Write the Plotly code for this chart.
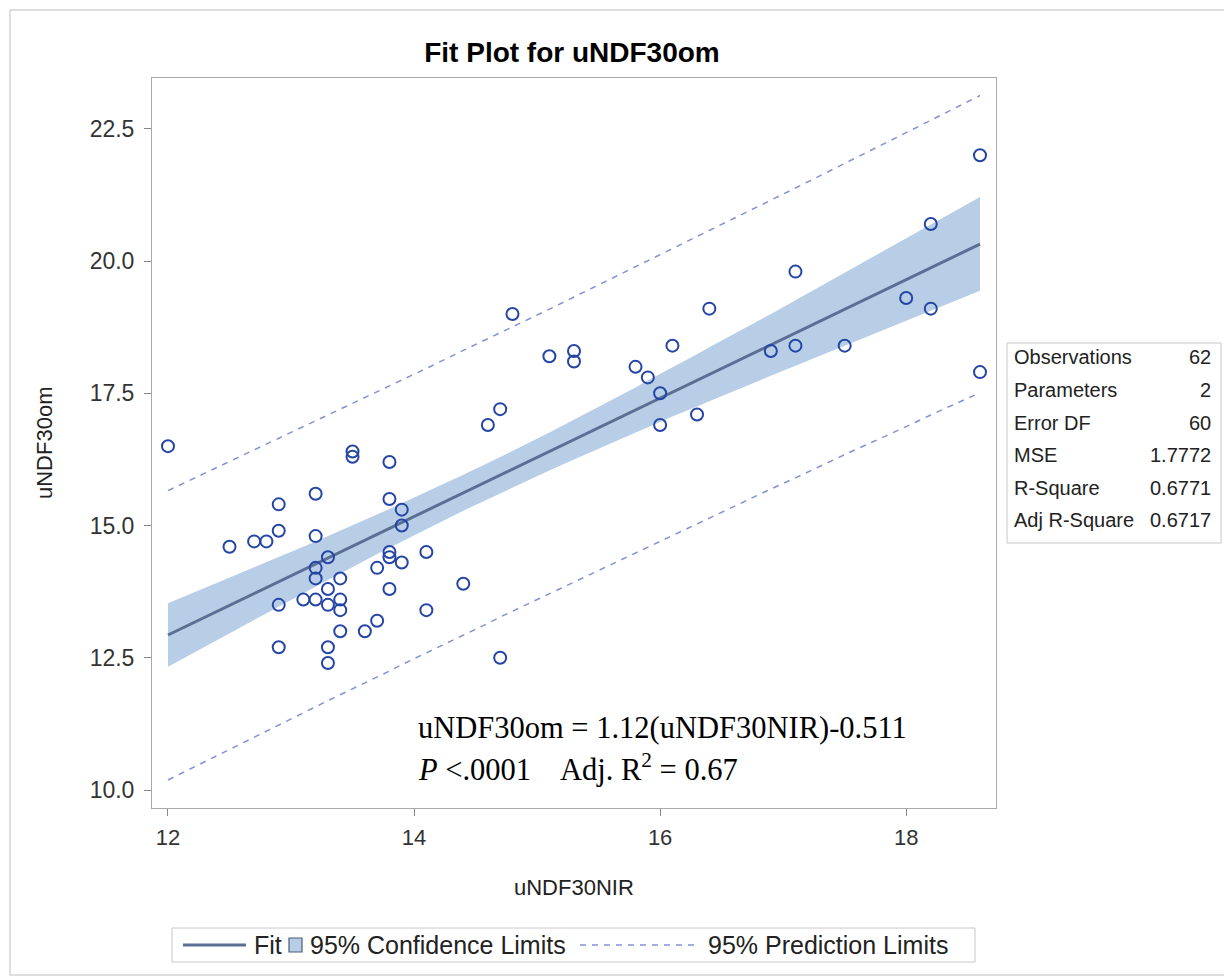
import plotly.graph_objects as go

x_obs = [12.0, 12.5, 12.7, 12.8, 12.9, 12.9, 12.9, 12.9, 13.2, 13.2, 13.2, 13.2, 13.1, 13.2,
         13.3, 13.3, 13.3, 13.3, 13.3, 13.4, 13.4, 13.4, 13.4, 13.5, 13.5, 14.8, 14.7, 14.6,
         13.8, 13.8, 13.9, 13.9, 13.8, 13.8, 13.9, 13.7, 14.1, 13.8, 14.4, 14.1, 13.7, 13.6,
         14.7, 15.1, 15.3, 15.3, 15.8, 15.9, 16.0, 16.0, 16.1, 16.3, 16.4, 18.6, 18.2, 17.1,
         18.0, 18.2, 16.9, 17.1, 17.5, 18.6]
y_obs = [16.5, 14.6, 14.7, 14.7, 15.4, 14.9, 13.5, 12.7, 15.6, 14.8, 14.2, 14.0, 13.6, 13.6,
         14.4, 13.8, 13.5, 12.7, 12.4, 14.0, 13.6, 13.4, 13.0, 16.4, 16.3, 19.0, 17.2, 16.9,
         16.2, 15.5, 15.3, 15.0, 14.5, 14.4, 14.3, 14.2, 14.5, 13.8, 13.9, 13.4, 13.2, 13.0,
         12.5, 18.2, 18.3, 18.1, 18.0, 17.8, 17.5, 16.9, 18.4, 17.1, 19.1, 22.0, 20.7, 19.8,
         19.3, 19.1, 18.3, 18.4, 18.4, 17.9]

# ---- fit, confidence band and prediction limits ----
band_x = [12.0, 12.5, 12.7, 12.8, 12.9, 13.1, 13.2, 13.3, 13.4, 13.5, 13.6, 13.7, 13.8, 13.9,
          14.1, 14.4, 14.6, 14.7, 14.8, 15.1, 15.3, 15.8, 15.9, 16.0, 16.1, 16.3, 16.4, 16.9,
          17.1, 17.5, 18.0, 18.2, 18.6]
fit_y = [12.93, 13.49, 13.71, 13.83, 13.94, 14.16, 14.27, 14.39, 14.50, 14.61, 14.72, 14.83,
         14.95, 15.06, 15.28, 15.62, 15.84, 15.95, 16.07, 16.40, 16.63, 17.19, 17.30, 17.41,
         17.52, 17.75, 17.86, 18.42, 18.64, 19.09, 19.65, 19.87, 20.32]
ci_upper = [13.53, 14.01, 14.21, 14.31, 14.40, 14.60, 14.70, 14.80, 14.90, 15.00, 15.11, 15.21,
            15.31, 15.42, 15.63, 15.96, 16.18, 16.29, 16.41, 16.76, 17.00, 17.61, 17.74, 17.86,
            17.99, 18.24, 18.37, 19.00, 19.26, 19.78, 20.43, 20.69, 21.21]
ci_lower = [12.33, 12.96, 13.22, 13.35, 13.47, 13.72, 13.85, 13.97, 14.09, 14.22, 14.34, 14.46,
            14.58, 14.70, 14.93, 15.28, 15.50, 15.61, 15.72, 16.04, 16.25, 16.76, 16.86, 16.96,
            17.06, 17.25, 17.35, 17.83, 18.02, 18.40, 18.87, 19.06, 19.44]
pi_upper = [15.66, 16.21, 16.43, 16.53, 16.64, 16.86, 16.97, 17.08, 17.19, 17.30, 17.42, 17.53,
            17.64, 17.75, 17.97, 18.31, 18.53, 18.64, 18.75, 19.09, 19.32, 19.89, 20.00, 20.11,
            20.23, 20.46, 20.57, 21.15, 21.38, 21.84, 22.43, 22.66, 23.13]
pi_lower = [10.19, 10.77, 11.00, 11.12, 11.23, 11.46, 11.57, 11.69, 11.80, 11.91, 12.03, 12.14,
            12.25, 12.37, 12.59, 12.93, 13.15, 13.27, 13.38, 13.71, 13.93, 14.48, 14.60, 14.70,
            14.81, 15.03, 15.14, 15.69, 15.90, 16.34, 16.87, 17.09, 17.51]

# ---- ticks and text ----
x_ticks = [12, 14, 16, 18]
y_ticks = [10.0, 12.5, 15.0, 17.5, 20.0, 22.5]
y_tick_labels = ["10.0", "12.5", "15.0", "17.5", "20.0", "22.5"]
stat_labels = ["Observations", "Parameters", "Error DF", "MSE", "R-Square", "Adj R-Square"]
stat_values = ["62", "2", "60", "1.7772", "0.6771", "0.6717"]
legend_labels = ["Fit", "95% Confidence Limits", "95% Prediction Limits"]

FONT = "Liberation Sans, Arial, sans-serif"
SERIF = "Liberation Serif, Times New Roman, serif"
OFF = 8  # page body margin
W, H = 1232 - OFF, 978 - OFF
L, T = 152 - OFF, 78 - OFF
R = W - (996 - OFF)
B = H - (808 - OFF)
PW, PH = W - L - R, H - T - B

BAND = "#b8cee6"
FIT = "#5b6f94"
PRED = "#8392d8"
MARK = "#2445a5"


def px(xr):
    return (xr - OFF - L) / PW


def py(yr):
    return (H - B - (yr - OFF)) / PH


fig = go.Figure()

fig.add_trace(go.Scatter(x=band_x, y=ci_lower, mode="lines", line=dict(width=0, color=BAND),
                         showlegend=False, hoverinfo="skip"))
fig.add_trace(go.Scatter(x=band_x, y=ci_upper, mode="lines", fill="tonexty",
                         fillcolor=BAND, line=dict(width=0, color=BAND),
                         name=legend_labels[1], showlegend=False))
fig.add_trace(go.Scatter(x=band_x, y=fit_y, mode="lines", line=dict(width=3, color=FIT),
                         name=legend_labels[0], showlegend=False))
fig.add_trace(go.Scatter(x=band_x, y=pi_upper, mode="lines",
                         line=dict(width=1.5, color=PRED, dash="6px,6px"),
                         name=legend_labels[2], showlegend=False))
fig.add_trace(go.Scatter(x=band_x, y=pi_lower, mode="lines",
                         line=dict(width=1.5, color=PRED, dash="6px,6px"),
                         name=legend_labels[2], showlegend=False))
fig.add_trace(go.Scatter(x=x_obs, y=y_obs, mode="markers",
                         marker=dict(symbol="circle-open", size=12,
                                     line=dict(width=2, color=MARK), color=MARK),
                         showlegend=False, name="uNDF30om"))

annotations = []
# stats table
row_y = [357, 390, 423, 455, 488, 520]
for lab, val, ry in zip(stat_labels, stat_values, row_y):
    annotations.append(dict(x=px(1012), y=py(ry), xref="paper", yref="paper", text=lab,
                            showarrow=False, xanchor="left", yanchor="middle",
                            font=dict(family=FONT, size=20, color="#222")))
    annotations.append(dict(x=px(1213), y=py(ry), xref="paper", yref="paper", text=val,
                            showarrow=False, xanchor="right", yanchor="middle",
                            font=dict(family=FONT, size=20, color="#222")))
# equation text
annotations.append(dict(x=px(416), y=py(728), xref="paper", yref="paper",
                        text="uNDF30om = 1.12(uNDF30NIR)-0.511", showarrow=False,
                        xanchor="left", yanchor="middle",
                        font=dict(family=SERIF, size=30.5, color="black")))
annotations.append(dict(x=px(416), y=py(767), xref="paper", yref="paper",
                        text="<i>P</i> &lt;.0001&nbsp;&nbsp;&nbsp; Adj. R<sup>2</sup> = 0.67", showarrow=False,
                        xanchor="left", yanchor="middle",
                        font=dict(family=SERIF, size=30.5, color="black")))
# axis titles
annotations.append(dict(x=px(574), y=py(887), xref="paper", yref="paper", text="uNDF30NIR",
                        showarrow=False, xanchor="center", yanchor="middle",
                        font=dict(family=FONT, size=22, color="#222")))
annotations.append(dict(x=px(44), y=py(443), xref="paper", yref="paper", text="uNDF30om",
                        showarrow=False, xanchor="center", yanchor="middle", textangle=-90,
                        font=dict(family=FONT, size=22, color="#222")))
# legend texts
leg_text_x = [252, 308, 706]
for lab, lx in zip(legend_labels, leg_text_x):
    annotations.append(dict(x=px(lx), y=py(945), xref="paper", yref="paper", text=lab,
                            showarrow=False, xanchor="left", yanchor="middle",
                            font=dict(family=FONT, size=25, color="#222")))

shapes = [
    # stats box
    dict(type="rect", xref="paper", yref="paper", x0=px(1007), x1=px(1221), y0=py(543), y1=py(343),
         line=dict(color="#c8c8c8", width=1)),
    # outer frame
    dict(type="rect", xref="paper", yref="paper", x0=px(10), x1=px(1245), y0=py(975), y1=py(10),
         line=dict(color="#d4d4d4", width=1.5)),
    # legend frame and keys
    dict(type="rect", xref="paper", yref="paper", x0=px(172), x1=px(975), y0=py(962), y1=py(928),
         line=dict(color="#c8c8c8", width=1)),
    dict(type="line", xref="paper", yref="paper", x0=px(183), x1=px(246), y0=py(945), y1=py(945),
         line=dict(color=FIT, width=3)),
    dict(type="rect", xref="paper", yref="paper", x0=px(289), x1=px(302), y0=py(952), y1=py(938),
         fillcolor=BAND, line=dict(color="#4a5a78", width=1.2)),
    dict(type="line", xref="paper", yref="paper", x0=px(580), x1=px(695), y0=py(945), y1=py(945),
         line=dict(color=PRED, width=1.5, dash="6px,6px")),
]

fig.update_layout(
    width=W, height=H,
    margin=dict(l=L, r=R, t=T, b=B),
    paper_bgcolor="white", plot_bgcolor="white",
    showlegend=False,
    title=dict(text="<b>Fit Plot for uNDF30om</b>", x=px(572), xanchor="center", xref="paper",
               y=1 - (52 - OFF) / H, yanchor="middle", yref="container",
               font=dict(family=FONT, size=28, color="black")),
    xaxis=dict(range=[11.87, 18.73], tickvals=x_ticks, ticktext=[str(v) for v in x_ticks],
               showgrid=False, zeroline=False, showline=True, mirror=True, linecolor="#a8a8a8",
               linewidth=1, ticks="outside", ticklen=7, tickcolor="#888", ticklabelstandoff=3,
               tickfont=dict(family=FONT, size=22, color="#333")),
    yaxis=dict(range=[9.66, 23.46], tickvals=y_ticks, ticktext=y_tick_labels,
               showgrid=False, zeroline=False, showline=True, mirror=True, linecolor="#a8a8a8",
               linewidth=1, ticks="outside", ticklen=7, tickcolor="#888", ticklabelstandoff=5,
               tickfont=dict(family=FONT, size=23, color="#333")),
    annotations=annotations,
    shapes=shapes,
)

fig.write_html("out.html")
